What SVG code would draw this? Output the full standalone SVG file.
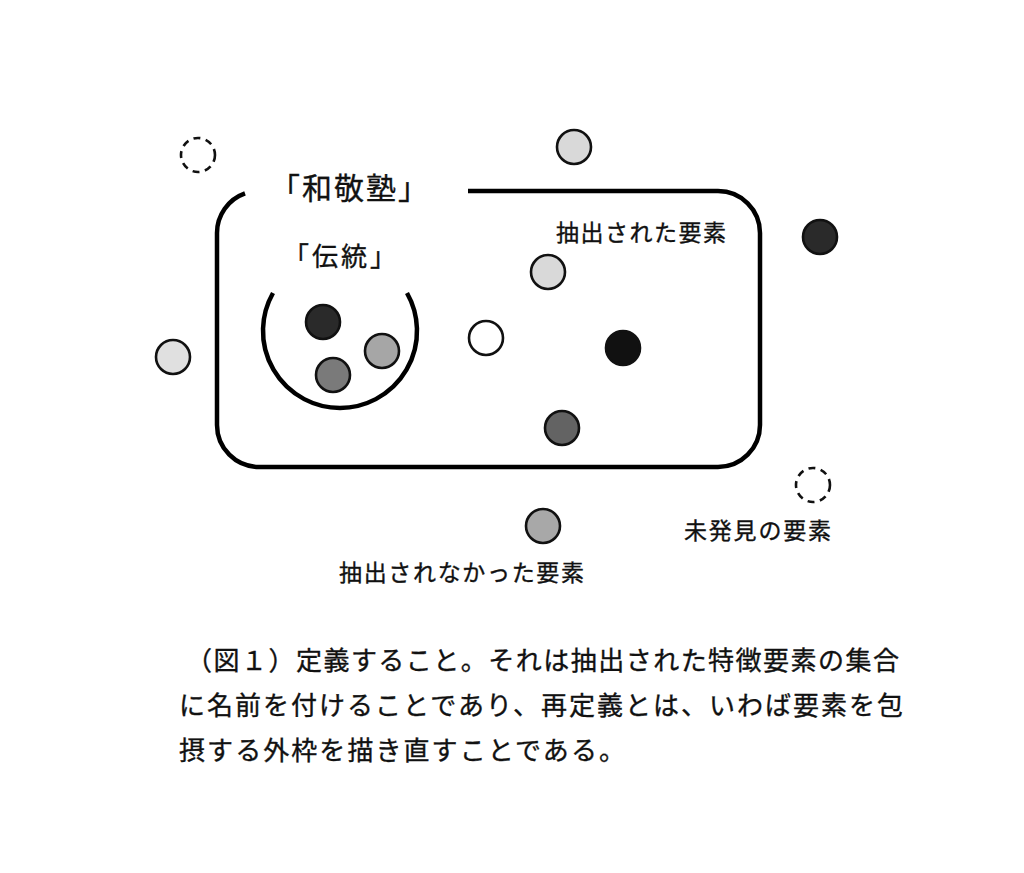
<svg xmlns="http://www.w3.org/2000/svg" width="1024" height="873" viewBox="0 0 1024 873">
<style>
.t{font-family:"Noto Sans CJK JP","Noto Sans CJK SC",sans-serif;fill:#111;stroke:#111;stroke-width:0.35;}
.el{stroke:#111;stroke-width:2.6;}
.dash{fill:none;stroke:#111;stroke-width:2.6;stroke-dasharray:7 5.5;}
.frame{fill:none;stroke:#000;stroke-width:4.5;stroke-linecap:butt;}
</style>
<rect width="1024" height="873" fill="#fff"/>
<g id="waseijuku">
<path class="frame" d="M245,193.4 A42,42 0 0 0 217,233 L217,425 A42,42 0 0 0 259,467 L718,467 A42,42 0 0 0 760,425 L760,233 A42,42 0 0 0 718,191 L468,191"/>
<text class="t" x="270" y="199" font-size="30" letter-spacing="2">「和敬塾」</text>
</g>
<g id="dentou">
<path class="frame" d="M273,293 A77,77 0 1 0 407,293" stroke-width="4"/>
<text class="t" x="283" y="266" font-size="26" letter-spacing="3">「伝統」</text>
<circle class="el" cx="323" cy="322" r="17" fill="#2a2a2a"/>
<circle class="el" cx="382" cy="351" r="17" fill="#a6a6a6"/>
<circle class="el" cx="333" cy="375" r="17" fill="#7a7a7a"/>
</g>
<g id="extracted">
<text class="t" x="556" y="241" font-size="23" textLength="170" lengthAdjust="spacing">抽出された要素</text>
<circle class="el" cx="548" cy="272" r="17" fill="#d9d9d9"/>
<circle class="el" cx="486" cy="338" r="17" fill="#ffffff"/>
<circle class="el" cx="623" cy="348" r="17" fill="#111111"/>
<circle class="el" cx="562" cy="428" r="17" fill="#636363"/>
</g>
<g id="not-extracted">
<circle class="el" cx="574" cy="147" r="17" fill="#d9d9d9"/>
<circle class="el" cx="173" cy="357" r="17" fill="#e0e0e0"/>
<circle class="el" cx="820" cy="237" r="17" fill="#2a2a2a"/>
<circle class="el" cx="543" cy="526" r="17" fill="#a8a8a8"/>
<text class="t" x="339" y="581" font-size="23" textLength="245" lengthAdjust="spacing">抽出されなかった要素</text>
</g>
<g id="undiscovered">
<circle class="dash" cx="198" cy="155" r="17"/>
<circle class="dash" cx="813" cy="485" r="17"/>
<text class="t" x="684" y="539" font-size="23" textLength="147" lengthAdjust="spacing">未発見の要素</text>
</g>
<g id="connectors"></g>
<g id="caption">
<text class="t" x="186" y="670" font-size="26" textLength="713" lengthAdjust="spacing">（図１）定義すること。それは抽出された特徴要素の集合</text>
<text class="t" x="179" y="715" font-size="26" textLength="724" lengthAdjust="spacing">に名前を付けることであり、再定義とは、いわば要素を包</text>
<text class="t" x="179" y="760" font-size="26" textLength="446" lengthAdjust="spacing">摂する外枠を描き直すことである。</text>
</g>
</svg>
